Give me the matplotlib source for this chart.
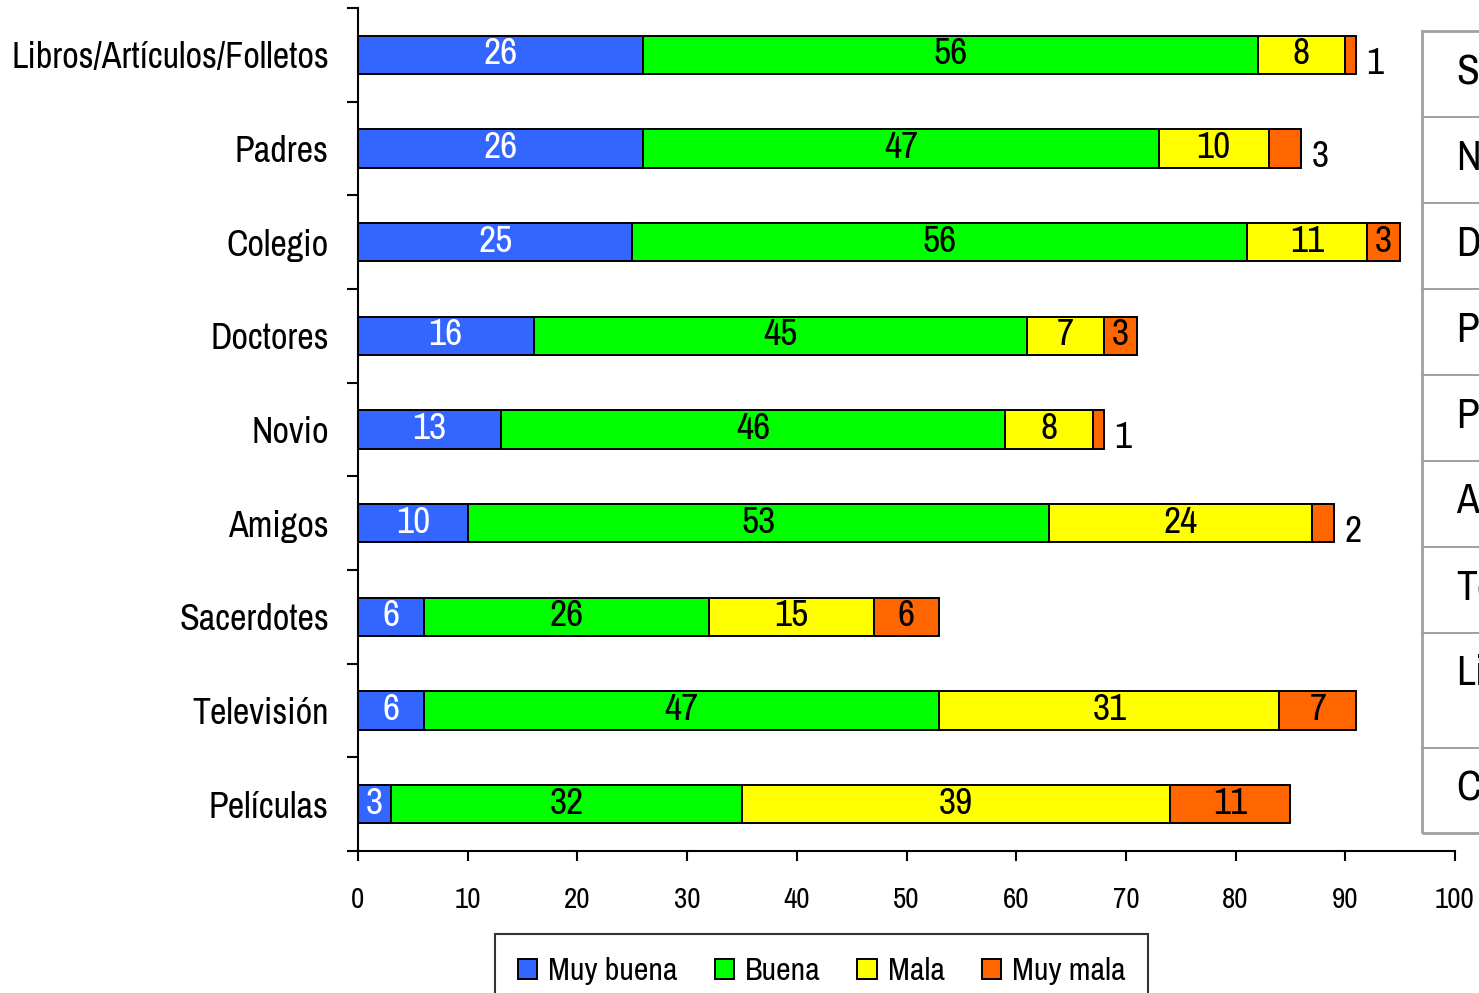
import matplotlib
matplotlib.use('Agg')
import matplotlib.pyplot as plt
from matplotlib.patches import Rectangle
import numpy as np

plt.rcParams['font.family'] = ['Archivo Narrow', 'DejaVu Sans']

# data, top to bottom
categorias = ['Libros/Artículos/Folletos', 'Padres', 'Colegio', 'Doctores', 'Novio',
              'Amigos', 'Sacerdotes', 'Televisión', 'Películas']
muy_buena = [26, 26, 25, 16, 13, 10, 6, 6, 3]
buena = [56, 47, 56, 45, 46, 53, 26, 47, 32]
mala = [8, 10, 11, 7, 8, 24, 15, 31, 39]
muy_mala = [1, 3, 3, 3, 1, 2, 6, 7, 11]
series_names = ['Muy buena', 'Buena', 'Mala', 'Muy mala']
colores = ['#3366FF', '#00FF00', '#FFFF00', '#FF6600']
# small last segments whose label sits outside the bar
fuera = [True, True, False, False, True, True, False, False, False]

# side table (cut off at the right edge in the original)
tabla = ['Sacerdotes', 'Novio', 'Doctores', 'Padres', 'Películas', 'Amigos',
         'Televisión', 'Libros/Artículos/', 'Colegio']

fig = plt.figure(figsize=(14.79, 9.93), dpi=100)
ax = fig.add_axes([358/1479, 142/993, 1097/1479, 843/993])

n = len(categorias)
y = np.arange(n)[::-1]
series = [muy_buena, buena, mala, muy_mala]
left = np.zeros(n)
for k, vals in enumerate(series):
    vals = np.array(vals)
    ax.barh(y, vals, left=left, height=0.41, color=colores[k],
            edgecolor='black', linewidth=1.4, label=series_names[k])
    for i in range(n):
        tc = 'white' if k == 0 else 'black'
        if k == 3 and fuera[i]:
            ax.text(left[i] + vals[i] + 0.9, y[i] - 0.2, str(vals[i]), ha='left',
                    va='baseline', fontsize=27, color='black')
        else:
            ax.text(left[i] + vals[i] / 2, y[i] - 0.1, str(vals[i]), ha='center',
                    va='baseline', fontsize=27, color=tc)
    left += vals

ax.set_xlim(0, 100)
ax.set_ylim(-0.5, n - 0.5)
ax.set_xticks(np.arange(0, 101, 10))
ax.set_yticks(y)
ax.set_yticklabels(categorias)
ax.set_yticks(np.arange(-0.5, n, 1), minor=True)
ax.tick_params(axis='y', which='major', length=0, pad=21, labelsize=26)
ax.tick_params(axis='y', which='minor', length=8, width=1.5, direction='out')
ax.tick_params(axis='x', length=7, width=1.5, direction='out', pad=18, labelsize=21)
for s in ['top', 'right']:
    ax.spines[s].set_visible(False)
for s in ['left', 'bottom']:
    ax.spines[s].set_linewidth(1.5)

tops = [31, 117, 203, 289, 375, 461, 547, 633, 748, 833]
fig.add_artist(Rectangle((1422/1479, 1 - 833/993), 200/1479, 802/993,
                         transform=fig.transFigure, fill=False,
                         edgecolor='#a0a0a0', linewidth=2))
for j, txt in enumerate(tabla):
    if j > 0:
        yy = 1 - tops[j] / 993
        fig.add_artist(plt.Line2D([1422/1479, 1], [yy, yy], transform=fig.transFigure,
                                  color='#a0a0a0', linewidth=1.4))
    fig.text(1456/1479, 1 - (tops[j] + 52) / 993, txt, ha='left', va='baseline',
             fontsize=30)

leg = fig.legend(loc='upper left', bbox_to_anchor=(495/1479, 1 - 934/993), ncol=4,
                 fontsize=23, frameon=True, fancybox=False, edgecolor='black',
                 handlelength=0.6, handleheight=0.6, handletextpad=0.35,
                 columnspacing=1.15, borderpad=0.72, borderaxespad=0)
leg.get_frame().set_linewidth(1.5)

fig.savefig('out.png', dpi=100)
